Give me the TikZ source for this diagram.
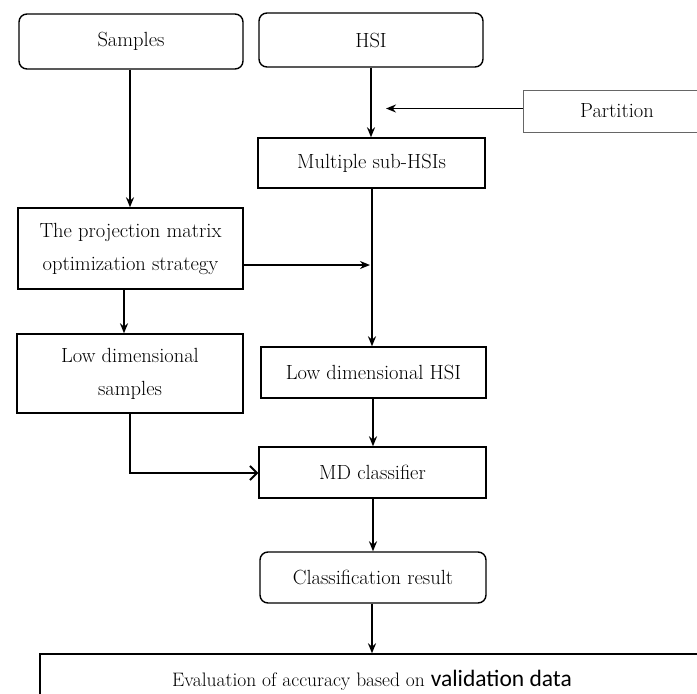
\documentclass[tikz,border=0pt]{standalone}
\usepackage{fontspec}
\newfontfamily\carlito{Carlito}
\usetikzlibrary{arrows.meta}
\begin{document}
\begin{tikzpicture}[x=1pt,y=-1pt,
  box/.style={draw, line width=1.4pt, inner sep=0pt, align=center,
    font=\fontsize{20.5}{33}\selectfont},
  rbox/.style={box, rounded corners=8pt},
  arr/.style={line width=1.9pt, -{Stealth[length=10pt,width=8pt]}},
  openarr/.style={line width=1.9pt, -{Straight Barb[length=7pt,width=14pt,line width=1.9pt]}}]
\useasboundingbox (0,0) rectangle (697,694);
\node[rbox, minimum width=224pt, minimum height=55pt] (samples) at (131,41.5) {Samples};
\node[rbox, minimum width=224pt, minimum height=54pt] (hsi) at (371,40) {HSI};
\node[box, draw=black!60, line width=0.8pt, minimum width=188pt, minimum height=42pt] (part) at (617,111) {Partition};
\node[box, minimum width=227pt, minimum height=50pt] (multi) at (371.5,163) {Multiple sub-HSIs};
\node[box, minimum width=225pt, minimum height=81pt] (proj) at (130.5,248.5) {The projection matrix\\optimization strategy};
\node[box, minimum width=226pt, minimum height=79pt] (ldsamp) at (130,373.5) {Low dimensional\\samples};
\node[box, minimum width=225pt, minimum height=51pt] (ldhsi) at (373.5,372.5) {Low dimensional HSI};
\node[box, minimum width=227pt, minimum height=51pt] (md) at (372.5,472.5) {MD classifier};
\node[rbox, minimum width=226pt, minimum height=51pt] (cls) at (373,577.5) {Classification result};
\node[box, minimum width=664pt, minimum height=52pt, font=\fontsize{19.5}{30}\selectfont] (eval) at (372,680) {Evaluation of accuracy based on {\carlito\fontsize{23.5}{30}\selectfont validation data}};
\coordinate (pj) at (386,108.5);
\coordinate (prj) at (370,265);
\coordinate (corner) at (130,473);
\draw[arr] (samples.south -| 130,0) -- (proj.north -| 130,0);
\draw[arr] (hsi.south -| 371,0) -- (multi.north -| 371,0);
\draw[arr] (part.west |- pj) -- (pj);
\draw[arr] (multi.south -| 372,0) -- (ldhsi.north -| 372,0);
\draw[arr] (proj.east |- prj) -- (prj);
\draw[arr] (proj.south -| 124,0) -- (ldsamp.north -| 124,0);
\draw[openarr] (ldsamp.south -| corner) -- (corner) -- (md.west |- corner);
\draw[arr] (ldhsi.south -| 373,0) -- (md.north -| 373,0);
\draw[arr] (md.south -| 373,0) -- (cls.north -| 373,0);
\draw[arr] (cls.south -| 372,0) -- (eval.north -| 372,0);
\end{tikzpicture}
\end{document}
